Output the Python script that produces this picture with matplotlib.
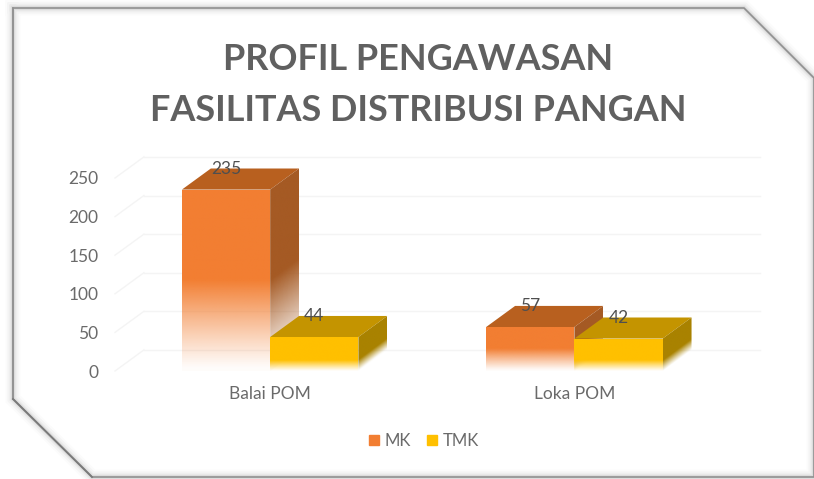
import numpy as np
import matplotlib
matplotlib.use("Agg")
import matplotlib.pyplot as plt
from matplotlib.patches import Polygon, Patch

plt.rcParams["font.family"] = ["Lato", "DejaVu Sans"]

TITLE = "PROFIL PENGAWASAN\nFASILITAS DISTRIBUSI PANGAN"
CATEGORIES = ["Balai POM", "Loka POM"]
MK = [235, 57]
TMK = [44, 42]
Y_TICKS = [0, 50, 100, 150, 200, 250]

W, H = 814, 479
TEXT = "#6a6a6a"
GRID = "#f4f4f4"

# 3d look of the bars, x in category units and y in value units
BAR_W = 0.29
DEPTH_X = 0.095
DEPTH_Y = 27.3


def fade_image(ax, poly, colour, fade_to, skew=0.0, x0=0.0, zorder=2):
    """Fill a polygon with a colour fading to white towards its foot."""
    xs, ys = poly[:, 0], poly[:, 1]
    xx, yy = np.meshgrid(np.linspace(xs.min(), xs.max(), 60),
                         np.linspace(ys.min(), ys.max(), 200))
    rel = yy - skew * (xx - x0)
    alpha = np.clip(rel / fade_to, 0.03, 1) ** 1.1
    rgba = np.zeros(xx.shape + (4,))
    rgba[..., :3] = matplotlib.colors.to_rgb(colour)
    rgba[..., 3] = alpha
    im = ax.imshow(rgba, origin="lower", aspect="auto", zorder=zorder,
                   extent=(xs.min(), xs.max(), ys.min(), ys.max()),
                   interpolation="bilinear")
    patch = Polygon(poly, closed=True, transform=ax.transData, fc="none", ec="none")
    ax.add_patch(patch)
    im.set_clip_path(patch)


def bar3d(ax, left, value, front, top, side, fade_to, zorder):
    right = left + BAR_W
    top_poly = [(left, value), (right, value),
                (right + DEPTH_X, value + DEPTH_Y), (left + DEPTH_X, value + DEPTH_Y)]
    ax.add_patch(Polygon(top_poly, closed=True, fc=top, ec="none", zorder=zorder))
    side_poly = np.array([(right, 0), (right, value),
                          (right + DEPTH_X, value + DEPTH_Y), (right + DEPTH_X, DEPTH_Y)])
    fade_image(ax, side_poly, side, fade_to, DEPTH_Y / DEPTH_X, right, zorder)
    front_poly = np.array([(left, 0), (right, 0), (right, value), (left, value)])
    fade_image(ax, front_poly, front, fade_to, zorder=zorder)
    ax.annotate(str(value), (left + BAR_W / 2, value), xytext=(0, 15),
                textcoords="offset points", ha="center", va="center",
                fontsize=12.5, color="#4f4f4f", zorder=10)


fig = plt.figure(figsize=(W / 100, H / 100), dpi=100)

# slide frame with cut corners, drawn in pixels
bg = fig.add_axes([0, 0, 1, 1], zorder=0)
bg.set_xlim(0, W)
bg.set_ylim(H, 0)
bg.axis("off")
frame_x = [13, 13, 92, 814, 814, 744, 13]
frame_y = [8, 399, 477, 477, 78, 8, 8]
for lw, a in [(11, 0.02), (8, 0.04), (5, 0.06), (3, 0.09)]:
    bg.plot(frame_x, frame_y, color="#555555", lw=lw, alpha=a, solid_joinstyle="miter")
bg.add_patch(Polygon(np.column_stack([frame_x, frame_y]), closed=True,
                     fc="white", ec="#a0a0a0", lw=1.2))
# the left and lower left edges are darker
bg.plot([13, 13], [8, 399], color="#939393", lw=1.2)
bg.plot([13, 92], [399, 477], color="#7a7a7a", lw=1.3)

# plot axes, category 0 centred on x=270px and category 1 on x=574px
ax = fig.add_axes([115 / W, (H - 371) / H, (760 - 115) / W, (371 - 150) / H],
                  zorder=1)
ax.patch.set_alpha(0)
for s in ax.spines.values():
    s.set_visible(False)

for v in Y_TICKS:
    ax.plot([-0.51 + DEPTH_X, 1.61], [v + DEPTH_Y] * 2, color=GRID, lw=1, zorder=1, clip_on=False)
    ax.plot([-0.51, -0.51 + DEPTH_X], [v, v + DEPTH_Y], color=GRID, lw=1, zorder=1, clip_on=False)

for i in range(len(CATEGORIES)):
    z = 2 + i * 2
    bar3d(ax, i - BAR_W, MK[i], "#F27E32", "#B8601F", "#A55A24",
          max(MK[i] * 0.5, 22), z)
    bar3d(ax, i, TMK[i], "#FFC000", "#C49400", "#A98200", 14, z + 1)

ax.set_xlim(-0.51, 1.61)
ax.set_ylim(0, (371 - 150) / 0.772)
ax.set_yticks(Y_TICKS)
ax.set_xticks(range(len(CATEGORIES)))
ax.set_xticklabels(CATEGORIES)
ax.tick_params(axis="y", length=0, pad=12, labelsize=12.5, labelcolor=TEXT)
ax.tick_params(axis="x", length=0, pad=11, labelsize=12.5, labelcolor=TEXT)

handles = [Patch(color="#F27E32", label="MK"), Patch(color="#FFC000", label="TMK")]
fig.legend(handles=handles, loc="center", bbox_to_anchor=(424 / W, 1 - 441 / H),
           ncol=2, frameon=False, fontsize=12, labelcolor=TEXT,
           handlelength=0.6, handleheight=0.6, handletextpad=0.3, columnspacing=1.0)

fig.text(418 / W, 1 - 85 / H, TITLE, ha="center", va="center", fontsize=25.9,
         fontweight="bold", color="#606060", linespacing=1.65)

fig.savefig("out.png", dpi=100)
plt.close(fig)
